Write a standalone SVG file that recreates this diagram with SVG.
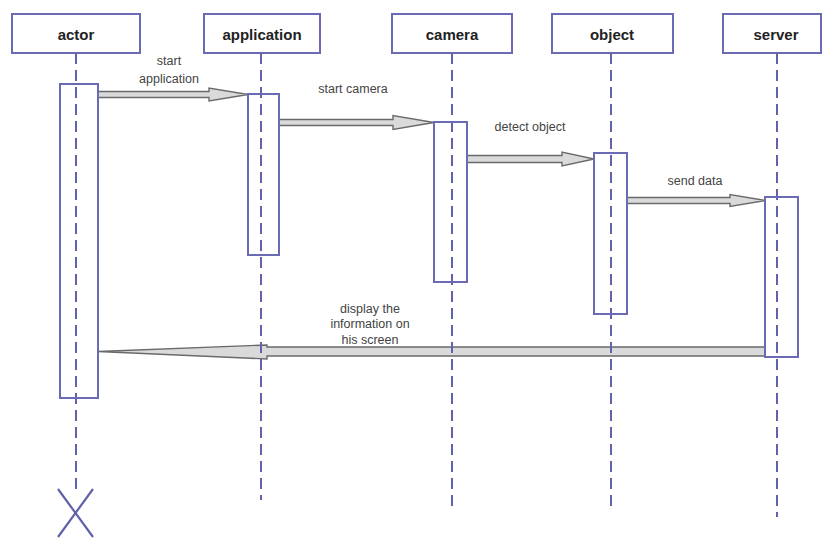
<svg xmlns="http://www.w3.org/2000/svg" width="822" height="538" viewBox="0 0 822 538">
<style>
.hdr{fill:#fff;stroke:#6b6bb5;stroke-width:2}
.hl{font-family:"Liberation Sans",Arial,sans-serif;font-weight:bold;font-size:15px;fill:#222;text-anchor:middle}
.life{stroke:#6262aa;stroke-width:2;stroke-dasharray:11 6;fill:none}
.act{fill:none;stroke:#6b6bb5;stroke-width:2}
.msg{fill:#dadada;stroke:#6a6a6a;stroke-width:1.4;stroke-linejoin:miter}
.lbl{font-family:"Liberation Sans",Arial,sans-serif;font-size:12.5px;fill:#444;text-anchor:middle}
</style>
<rect width="822" height="538" fill="#fff"/>
<g id="connectors">
<polygon class="msg" points="98,91.5 209,91.5 209,88 248,94.5 209,101 209,97.5 98,97.5"/>
<polygon class="msg" points="279,119.5 393,119.5 393,115.5 434,122.5 393,129.5 393,125.5 279,125.5"/>
<polygon class="msg" points="467,155.5 562,155.5 562,152 594,159 562,166 562,162.5 467,162.5"/>
<polygon class="msg" points="627,197.5 730,197.5 730,194.5 765,200.5 730,206.5 730,203.5 627,203.5"/>
<polygon class="msg" points="765,347 267,347 267,345 98,351.5 267,359 267,356 765,356"/>
<text class="lbl" x="169" y="65">start</text>
<text class="lbl" x="169" y="83">application</text>
<text class="lbl" x="353" y="93">start camera</text>
<text class="lbl" x="530" y="131">detect object</text>
<text class="lbl" x="695" y="185">send data</text>
<text class="lbl" x="370" y="313">display the</text>
<text class="lbl" x="370" y="328">information on</text>
<text class="lbl" x="370" y="344">his screen</text>
</g>
<g id="actor">
<rect class="hdr" x="12" y="14" width="128" height="39"/>
<text class="hl" x="76" y="40">actor</text>
<line class="life" x1="76" y1="53" x2="76" y2="492"/>
<rect class="act" x="60" y="84" width="38" height="314"/>
<path d="M58,489 L93,537 M93,489 L58,537" stroke="#6262aa" stroke-width="2.2" fill="none"/>
</g>
<g id="application">
<rect class="hdr" x="204" y="14" width="116" height="39"/>
<text class="hl" x="262" y="40">application</text>
<line class="life" x1="261" y1="53" x2="261" y2="500"/>
<rect class="act" x="248" y="94" width="31" height="161"/>
</g>
<g id="camera">
<rect class="hdr" x="392" y="14" width="120" height="39"/>
<text class="hl" x="452" y="40">camera</text>
<line class="life" x1="452" y1="53" x2="452" y2="507"/>
<rect class="act" x="434" y="122" width="33" height="160"/>
</g>
<g id="object">
<rect class="hdr" x="552" y="14" width="121" height="39"/>
<text class="hl" x="612" y="40">object</text>
<line class="life" x1="611" y1="53" x2="611" y2="507"/>
<rect class="act" x="594" y="153" width="33" height="161"/>
</g>
<g id="server">
<rect class="hdr" x="723" y="14" width="98" height="39"/>
<text class="hl" x="776" y="40">server</text>
<line class="life" x1="777" y1="53" x2="777" y2="517"/>
<rect class="act" x="765" y="197" width="33" height="160"/>
</g>
</svg>
